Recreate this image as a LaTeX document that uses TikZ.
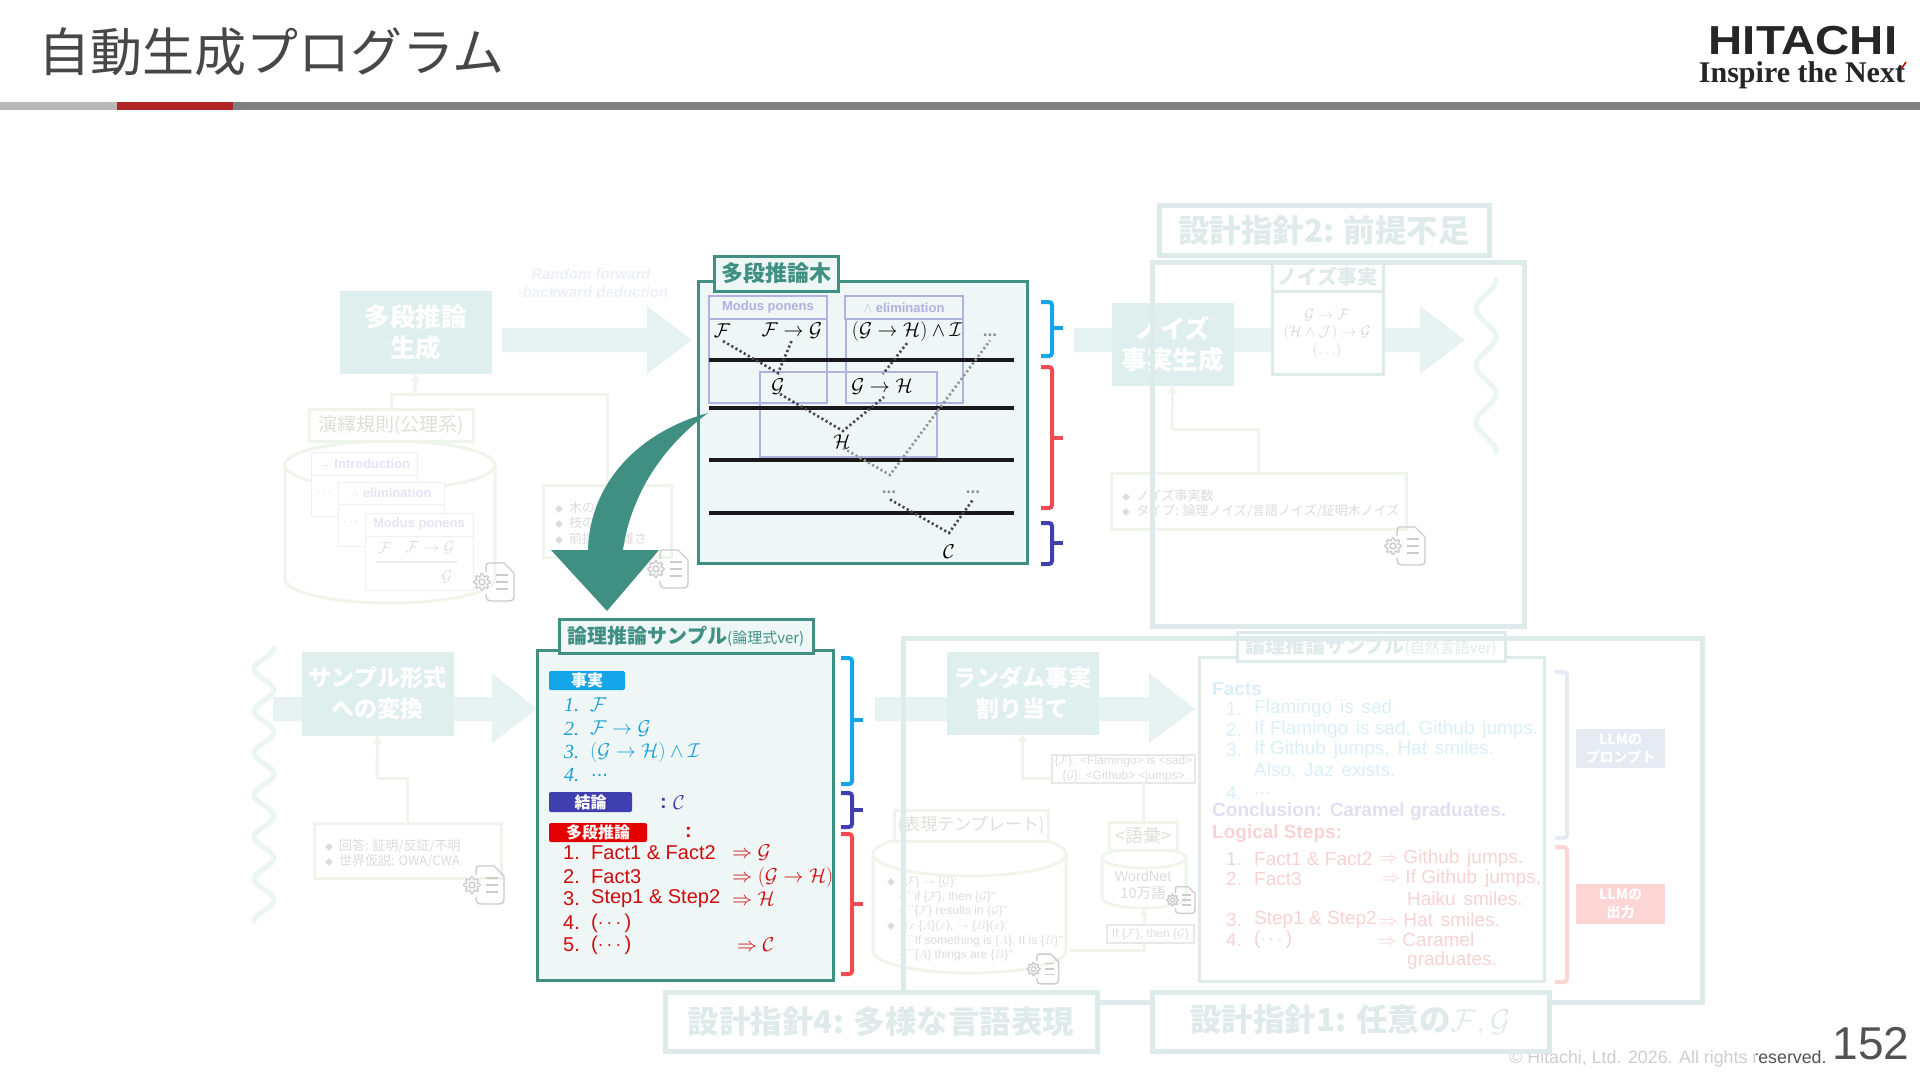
\RequirePackage{fix-cm}
\documentclass[tikz,border=0pt]{standalone}
\usepackage[no-math]{fontspec}
\usepackage{amsmath}
\setmainfont{Noto Sans CJK JP}
\newfontfamily\lat{Liberation Sans}
\newfontfamily\latser{Liberation Serif}
\newfontfamily\hitfont[FakeStretch=1.17]{Liberation Sans}
\usetikzlibrary{arrows.meta,calc}
\definecolor{teal0}{HTML}{3F9082}
\definecolor{panelbg}{HTML}{EEF6F6}
\definecolor{boxfade}{HTML}{DFEFEE}
\definecolor{arrowfade}{HTML}{E7F2F2}
\definecolor{wavefade}{HTML}{EAF5F4}
\definecolor{linefade}{HTML}{DDEBEA}
\definecolor{titlefade}{HTML}{DFEBEA}
\definecolor{greenfade}{HTML}{EFF5EB}
\definecolor{textfade}{HTML}{DCDCDC}
\definecolor{lav}{HTML}{AEB2DE}
\definecolor{lavfade}{HTML}{EEEFF7}
\definecolor{bblue}{HTML}{14A5E8}
\definecolor{bred}{HTML}{EE4C50}
\definecolor{bind}{HTML}{3F3FB0}
\definecolor{factblue}{HTML}{1A9FD8}
\definecolor{stepred}{HTML}{D00A0A}
\definecolor{pbr}{HTML}{E6EAF3}
\definecolor{rbr}{HTML}{FDD5D5}
\newcommand{\fz}[2]{\fontsize{#1}{#2}\selectfont}
\newcommand{\dsp}{\ \hspace{2.5pt}}
\newcommand{\bx}[7][]{\node[inner sep=0pt,outer sep=0pt,align=center,minimum width={(#5-(#3))*1pt},minimum height={(#6-(#4))*1pt},#1] (#2) at ({(#3+#5)/2},{(#4+#6)/2}) {#7};}
\newcommand{\tx}[5][]{\node[anchor=west,inner sep=0pt,#1] (#2) at (#3,#4) {#5};}
\newcommand{\cen}[5][]{\node[inner sep=0pt,#1] (#2) at (#3,#4) {#5};}
\newcommand{\brc}[5]{\draw[#5,line width=4pt,rounded corners=3pt] (#1,#2) -- ({#1+11},#2) -- ({#1+11},#4) -- (#1,#4);\draw[#5,line width=4pt] ({#1+11},#3) -- ({#1+22},#3);}
\newcommand{\cyl}[5]{%
  \pgfmathsetmacro{\rxv}{(#2-(#1))/2}\pgfmathsetmacro{\cxv}{(#1+#2)/2}%
  \draw[greenfade,line width=3pt] (\cxv,{#3+#5}) ellipse[x radius=\rxv pt,y radius=#5 pt];
  \draw[greenfade,line width=3pt] (#1,{#3+#5}) -- (#1,{#4-#5}) arc[start angle=180,end angle=360,x radius=\rxv pt,y radius=#5 pt] -- (#2,{#3+#5});}
\tikzset{
  fadebox/.style={fill=boxfade,draw=boxfade,text=white,font=\bfseries\fz{25.5}{31}},
  gline/.style={greenfade,line width=3pt},
  garrow/.style={greenfade,line width=3pt,-{Stealth[length=9pt,width=9pt]}},
  gbox/.style={draw=greenfade,line width=3pt,fill=white},
  lavbox/.style={draw=lav,line width=1.3pt},
  fadecard/.style={draw=lavfade,line width=1pt,fill=white,text=lav!35!white,font=\lat\bfseries\fz{13}{15}},
  thickrule/.style={black!90,line width=3.4pt},
  dots1/.style={black!72,line width=2.6pt,dash pattern=on 2.2pt off 2.6pt},
  dots2/.style={black!42,line width=2.6pt,dash pattern=on 2.2pt off 2.6pt},
  wave/.style={wavefade,line width=5pt,line cap=round},
  faint/.style={text=textfade,font=\fz{13}{15},align=left},
  dtitle/.style={draw=linefade,line width=5pt,fill=white,text=titlefade,font=\bfseries\fz{31.5}{36}},
  gearline/.style={draw=black!20,line width=1.4pt},
  geardoc/.pic={
    \draw[gearline] (-6,-19) -- (10,-19) -- (20,-9) -- (20,14) .. controls (20,18) and (18,19) .. (14,19) -- (-2,19) .. controls (-6,19) and (-8,18) .. (-8,12);
    \draw[gearline] (-6,-19) .. controls (-8,-19) and (-8,-14) .. (-8,-10);
    \fill[white] (-12,0) circle (9.5);
    \draw[gearline] plot[domain=0:360,samples=49,smooth] ({-12+(7+1.4*cos(8*\x))*cos(\x)},{(7+1.4*cos(8*\x))*sin(\x)});
    \draw[gearline] (-12,0) circle (3);
    \draw[gearline] (2,-7) -- (14,-7) (2,0) -- (14,0) (2,7) -- (14,7);
  },
}
\begin{document}
\begin{tikzpicture}[x=1pt,y=-1pt]
\useasboundingbox (0,0) rectangle (1920,1080);
\fill[white] (0,0) rectangle (1920,1080);

% copyright, faded by the sheet that whitens the slide
\cen[text=black!68,font=\lat\fz{17.8}{20}]{copy}{1668}{1059}{\textcopyright\ Hitachi, Ltd. 2026. All rights reserved.}
\fill[white,opacity=.72] (1500,1045) rectangle (1756,1075);
\cen[text=black!68,font=\lat\fz{46}{50}]{pageno}{1871}{1044}{152}

% header
\fill[black!50] (0,102) rectangle (1920,110);
\fill[black!28] (0,102) rectangle (117,110);
\fill[red!65!black!85!white] (117,102) rectangle (233,110);
\tx[text=black!72,font=\fz{52}{55}]{title}{38}{52}{自動生成プログラム}
\cen[text=black!85,font=\hitfont\bfseries\fz{40.5}{42}]{logoa}{1803}{41}{HITACHI}
\cen[text=black!85,font=\latser\bfseries\fz{30}{32}]{logob}{1802}{75}{Inspire the Next}
\draw[red!80!black,line width=1.6pt] (1902,68) -- (1906,62);

% ---------- faded: random deduction ----------
\fill[arrowfade] (502,328) -- (647,328) -- (647,306) -- (692,340) -- (647,374) -- (647,352) -- (502,352) -- cycle;
\bx[fadebox]{gen}{340}{291}{491}{373}{多段推論\\生成}
\cen[text=lavfade,font=\lat\bfseries\itshape\fz{15}{17}]{rfa}{591}{274}{Random forward}
\cen[text=lavfade,font=\lat\bfseries\itshape\fz{15}{17}]{rfb}{593}{292}{-backward deduction}
\cyl{285}{495}{441}{603}{24}
\bx[gbox,text=greenfade!92!black,font=\fz{19}{22}]{rules}{309}{409}{473}{441}{演繹規則(公理系)}
\coordinate (j1) at (415,394);
\bx[gbox]{dlist}{543}{485}{671}{557}{}
\draw[gline] (rules.north) |- (j1);
\draw[gline] (dlist.north) |- (j1);
\draw[garrow] (j1) -- (gen.south);
\bx[fadecard]{ca}{311}{452}{417}{475}{→ Introduction}
\bx[fadecard]{cab}{311}{475}{417}{516}{}
\cen[text=textfade,font=\fz{13}{14}]{cad}{325}{494}{$\cdots$}
\bx[fadecard]{cb}{338}{482}{444}{504}{$\land$ elimination}
\bx[fadecard]{cbb}{338}{504}{444}{546}{}
\cen[text=textfade,font=\fz{13}{14}]{cbd}{352}{523}{$\cdots$}
\bx[fadecard]{cc}{365}{513}{473}{536}{Modus ponens}
\bx[fadecard]{ccb}{365}{536}{473}{590}{}
\cen[text=textfade,font=\fz{16}{18}]{ccf}{385}{548}{$\mathcal{F}$}
\cen[text=textfade,font=\fz{16}{18}]{ccg}{430}{548}{$\mathcal{F}\to\mathcal{G}$}
\coordinate (cca) at (376,562);
\coordinate (ccc) at (458,562);
\draw[lavfade,line width=1.2pt] (cca) -- (ccc);
\cen[text=textfade,font=\fz{16}{18}]{cch}{447}{577}{$\mathcal{G}$}
\pic at (494,582) {geardoc};
\tx[faint]{dla}{555}{508}{{\fz{8}{9}◆}\ \ 木の深さ}
\tx[faint]{dlb}{555}{523}{{\fz{8}{9}◆}\ \ 枝の数}
\tx[faint]{dlc}{555}{539}{{\fz{8}{9}◆}\ \ 前提の複雑さ}
\pic at (668,569) {geardoc};

% ---------- faded: noise facts ----------
\fill[arrowfade] (1074,328) -- (1420,328) -- (1420,306) -- (1465,340) -- (1420,374) -- (1420,352) -- (1074,352) -- cycle;
\bx[fadebox]{ngen}{1112}{303}{1233}{385}{ノイズ\\事実生成}
\draw[wave] plot[domain=280:452,samples=90,smooth] ({1486+10*cos((\x-280)/57*360)},\x);
\bx[gbox]{nlist}{1111}{473}{1406}{529}{}
\coordinate (j2) at (1172,429);
\draw[gline] (nlist.north) |- (j2);
\draw[garrow] (j2) -- (ngen.south);
\tx[faint]{nla}{1122}{496}{{\fz{8}{9}◆}\ \ ノイズ事実数}
\tx[faint]{nlb}{1122}{511}{{\fz{8}{9}◆}\ \ タイプ: 論理ノイズ/言語ノイズ/証明木ノイズ}
\pic at (1405,546) {geardoc};
\bx[draw=linefade,line width=3pt,fill=white,text=titlefade,font=\bfseries\fz{20}{24}]{nhead}{1272}{262}{1383}{291}{ノイズ事実}
\bx[draw=linefade,line width=3pt,fill=white]{nbody}{1272}{291}{1383}{374}{}
\cen[text=black!16,font=\fz{15}{17}]{nfa}{1327}{315}{$\mathcal{G}\to\mathcal{F}$}
\cen[text=black!16,font=\fz{15}{17}]{nfb}{1327}{333}{$(\mathcal{H}\land\mathcal{J})\to\mathcal{G}$}
\cen[text=black!16,font=\fz{15}{17}]{nfc}{1327}{351}{$(\ldots)$}
\bx[draw=linefade,line width=5pt]{npanel}{1152}{262}{1524}{626}{}
\bx[dtitle]{d2}{1159}{205}{1489}{255}{設計指針2: 前提不足}

% ---------- faded: sample format ----------
\draw[wave] plot[domain=648:922,samples=140,smooth] ({264+10*cos((\x-648)/42*360)},\x);
\fill[arrowfade] (273,697) -- (492,697) -- (492,673) -- (537,709) -- (492,743) -- (492,721) -- (273,721) -- cycle;
\bx[fadebox,font=\bfseries\fz{23}{31}]{sgen}{302}{652}{453}{735}{サンプル形式\\への変換}
\bx[gbox]{slist}{314}{823}{501}{878}{}
\coordinate (j3) at (377,778);
\draw[gline] (slist.north) |- (j3);
\draw[garrow] (j3) -- (sgen.south);
\tx[faint]{sla}{325}{846}{{\fz{8}{9}◆}\ \ 回答: 証明/反証/不明}
\tx[faint]{slb}{325}{861}{{\fz{8}{9}◆}\ \ 世界仮説: OWA/CWA}
\pic at (484,885) {geardoc};

% ---------- faded: random fact assignment ----------
\fill[arrowfade] (875,697) -- (1149,697) -- (1149,673) -- (1195,709) -- (1149,743) -- (1149,721) -- (875,721) -- cycle;
\bx[fadebox,font=\bfseries\fz{23}{31}]{rgen}{947}{652}{1098}{734}{ランダム事実\\割り当て}
\cyl{873}{1066}{832}{973}{22}
\bx[gbox,text=greenfade!92!black,font=\fz{17}{22}]{tplh}{894}{810}{1048}{841}{(表現テンプレート)}
\tikzset{tpltext/.style={text=textfade,font=\lat\fz{12}{14}}}
\tx[tpltext]{ta}{887}{882}{{\fz{8}{9}\rmfamily ◆}\ \ \{$\mathcal{F}$\} $\to$ \{$\mathcal{G}$\}:}
\tx[tpltext]{tb}{899}{897}{- ``if \{$\mathcal{F}$\}, then \{$\mathcal{G}$\}''}
\tx[tpltext]{tc}{899}{911}{- ``\{$\mathcal{F}$\} results in \{$\mathcal{G}$\}''}
\tx[tpltext]{td}{887}{926}{{\fz{8}{9}\rmfamily ◆}\ \ $\forall x$ \{$A$\}($x$), $\to$ \{$B$\}($x$):}
\tx[tpltext]{te}{899}{941}{- ``If something is \{$A$\}, It is \{$B$\}''}
\tx[tpltext]{tf}{899}{955}{- ``\{$A$\} things are \{$B$\}''}
\pic[scale=.78] at (1043,969) {geardoc};
\coordinate (j4) at (1052,778);
\draw[garrow] (j4) -| (rgen.south);
\coordinate (j5) at (1069,950);
\cyl{1102}{1186}{848}{908}{10}
\node[inner sep=0pt,minimum width=84pt,minimum height=60pt] (wn) at (1144,878) {};
\draw[garrow] (j5) -| (wn.south);
\bx[draw=black!9,line width=1.2pt,fill=white,text=textfade,font=\lat\fz{12}{15}]{ifb}{1107}{925}{1194}{943}{If \{$\mathcal{F}$\}, then \{$\mathcal{G}$\}}
\bx[gbox,text=greenfade!92!black,font=\fz{18}{20}]{vocab}{1109}{822}{1177}{850}{<語彙>}
\cen[text=textfade,font=\lat\fz{14.5}{17}]{wna}{1143}{876}{WordNet}
\cen[text=textfade,font=\fz{14.5}{17}]{wnb}{1143}{893}{10万語}
\pic[scale=.7] at (1181,900) {geardoc};
\bx[draw=black!9,line width=1.2pt,fill=white,text=textfade,font=\lat\fz{12}{15}]{fgb}{1052}{755}{1195}{783}{\{$\mathcal{F}$\}: <Flamingo> is <sad>\\\{$\mathcal{G}$\}: <Github> <jumps>}
\draw[gline] (vocab.north) -- (vocab.north |- fgb.south);

% ---------- faded: natural language sample ----------
\bx[draw=linefade,line width=3pt,fill=white]{nlpanel}{1199}{657}{1544}{981}{}
\bx[draw=linefade,line width=3pt,fill=white,text=titlefade,font=\bfseries\fz{20}{24}]{nltitle}{1237}{632}{1505}{661}{論理推論サンプル{\mdseries\fz{15}{17}(自然言語ver)}}
\tikzset{nb/.style={text=factblue!16!white,font=\lat\fz{19}{22}},
  nr/.style={text=stepred!18!white,font=\lat\fz{19}{22}}}
\tx[text=factblue!16!white,font=\lat\bfseries\fz{19}{22}]{fh}{1212}{689}{Facts}
\tx[nb]{f1n}{1226}{709}{1.}
\tx[nb]{f1}{1254}{709}{Flamingo\dsp is\dsp sad.}
\tx[nb]{f2n}{1226}{730}{2.}
\tx[nb]{f2}{1254}{730}{If Flamingo\dsp is sad,\dsp Github\dsp jumps.}
\tx[nb]{f3n}{1226}{750}{3.}
\tx[nb]{f3}{1254}{750}{If Github\dsp jumps,\dsp Hat\dsp smiles.}
\tx[nb]{f3b}{1254}{771}{Also,\dsp Jaz\dsp exists.}
\tx[nb]{f4n}{1226}{793}{4.}
\tx[nb]{f4}{1254}{793}{...}
\tx[text=bind!16!white,font=\lat\bfseries\fz{19}{22}]{ch}{1212}{812}{Conclusion:\dsp Caramel graduates.}
\tx[text=stepred!18!white,font=\lat\bfseries\fz{19}{22}]{lh}{1212}{834}{Logical Steps:}
\tx[nr]{l1n}{1226}{859}{1.}
\tx[nr]{l1}{1254}{859}{Fact1 \& Fact2}
\tx[nr]{l1a}{1379}{859}{$\Rightarrow$ Github\dsp jumps.}
\tx[nr]{l2n}{1226}{879}{2.}
\tx[nr]{l2}{1254}{879}{Fact3}
\tx[nr]{l2a}{1381}{879}{$\Rightarrow$ If Github\dsp jumps,}
\tx[nr]{l2b}{1407}{899}{Haiku\dsp smiles.}
\tx[nr]{l3n}{1226}{920}{3.}
\tx[nr]{l3}{1254}{920}{Step1 \& Step2}
\tx[nr]{l3a}{1379}{920}{$\Rightarrow$ Hat\dsp smiles.}
\tx[nr]{l4n}{1226}{940}{4.}
\tx[nr]{l4}{1254}{940}{($\cdots$)}
\tx[nr]{l4a}{1378}{940}{$\Rightarrow$ Caramel}
\tx[nr]{l4b}{1407}{961}{graduates.}
\draw[pbr,line width=4pt,rounded corners=3pt] (1555,672) -- (1567,672) -- (1567,838) -- (1555,838);
\draw[rbr,line width=4pt,rounded corners=3pt] (1555,847) -- (1567,847) -- (1567,982) -- (1555,982);
\bx[fill=pbr,text=white,font=\bfseries\fz{14}{18}]{llmp}{1576}{729}{1665}{768}{LLMの\\プロンプト}
\bx[fill=rbr,text=white,font=\bfseries\fz{14}{18}]{llmo}{1576}{884}{1665}{924}{LLMの\\出力}
\bx[draw=linefade,line width=5pt]{rpanel}{903}{638}{1702}{1002}{}
\bx[dtitle]{d4}{665}{992}{1097}{1051}{設計指針4: 多様な言語表現}
\bx[dtitle]{d1}{1152}{992}{1549}{1051}{設計指針1: 任意の$\mathcal{F},\mathcal{G}$}

% ---------- tree panel ----------
\bx[draw=teal0,line width=3pt,fill=panelbg]{tree}{698}{281}{1027}{563}{}
\bx[lavbox,text=lav,font=\lat\bfseries\fz{13}{15}]{mph}{709}{296}{827}{319}{Modus ponens}
\bx[lavbox]{mpb}{709}{319}{827}{403}{}
\bx[lavbox,text=lav,font=\lat\bfseries\fz{13}{15}]{elh}{845}{296}{963}{319}{$\land$ elimination}
\bx[lavbox]{elb}{846}{319}{963}{403}{}
\bx[lavbox]{gh}{760}{372}{937}{457}{}
\bx[draw=teal0,line width=3pt,fill=panelbg,text=teal0,font=\bfseries\fz{22}{26}]{treetitle}{714}{256}{838}{291}{多段推論木}
\foreach \yy/\nn in {360/a,408/b,460/c,513/d}{
  \coordinate (rl\nn) at (709,\yy);
  \coordinate (rr\nn) at (1014,\yy);
  \draw[thickrule] (rl\nn) -- (rr\nn);
}
\tikzset{tm/.style={font=\fz{20}{24}}}
\cen[tm]{tf}{722}{331}{$\mathcal{F}$}
\cen[tm]{tfg}{792}{331}{$\mathcal{F}\to\mathcal{G}$}
\cen[tm]{tgi}{907}{331}{$(\mathcal{G}\to\mathcal{H})\land\mathcal{I}$}
\cen[tm]{tg}{778}{387}{$\mathcal{G}$}
\cen[tm]{tgh}{882}{387}{$\mathcal{G}\to\mathcal{H}$}
\cen[tm]{th}{842}{442}{$\mathcal{H}$}
\cen[tm]{tc}{949}{552}{$\mathcal{C}$}
\cen[text=black!45,font=\lat\bfseries\fz{17}{18}]{td1}{990}{335}{...}
\cen[text=black!45,font=\lat\bfseries\fz{17}{18}]{td2}{889}{492}{...}
\cen[text=black!45,font=\lat\bfseries\fz{17}{18}]{td3}{973}{492}{...}
\coordinate (m1) at (778,373);
\coordinate (m2) at (843,431);
\coordinate (m3) at (890,475);
\coordinate (m4) at (949,533);
\coordinate (e1) at (883,374);
\coordinate (e2) at (884,397);
\draw[dots1] ($(tf.south)+(1,3)$) -- (m1) -- ($(tfg.south)+(0,1)$);
\draw[dots1] ($(tgi.south)+(0,2)$) -- (e1);
\draw[dots1] ($(tg.south)+(2,-1)$) -- (m2) -- (e2);
\draw[dots2] ($(th.south)+(1,-1)$) -- (m3) -- ($(td1.south)+(0,4)$);
\draw[dots1] ($(td2.south)+(1,6)$) -- (m4) -- ($(td3.south)+(0,6)$);

% brackets of the tree
\brc{1041}{302}{328}{356}{bblue}
\brc{1041}{367}{438}{508}{bred}
\brc{1041}{523}{543}{564}{bind}

% ---------- big arrow ----------
\fill[teal0] (708,413) .. controls (642,431) and (590,480) .. (588,550) -- (551,550) -- (607,611) -- (659,550) -- (623,550) .. controls (630,500) and (658,450) .. (708,413) -- cycle;

% ---------- logic sample panel ----------
\bx[draw=teal0,line width=3pt,fill=panelbg]{lp}{537}{650}{833}{980}{}
\bx[draw=teal0,line width=3pt,fill=panelbg,text=teal0,font=\bfseries\fz{20}{26}]{lt}{559}{619}{813}{653}{論理推論サンプル{\mdseries\fz{15}{18}(論理式ver)}}
\tikzset{chip/.style={rounded corners=2pt,text=white,font=\bfseries\fz{16}{18}}}
\bx[chip,fill=bblue]{c1}{549}{671}{625}{690}{事実}
\bx[chip,fill=bind]{c2}{549}{792}{632}{812}{結論}
\bx[chip,fill=red!90!black]{c3}{549}{823}{647}{842}{多段推論}
\tikzset{fct/.style={text=factblue,font=\fz{20}{24}}}
\tx[fct]{ff1n}{564}{705}{\textit{\latser 1.}}
\tx[fct]{ff1}{590}{705}{$\mathcal{F}$}
\tx[fct]{ff2n}{564}{729}{\textit{\latser 2.}}
\tx[fct]{ff2}{590}{729}{$\mathcal{F}\to\mathcal{G}$}
\tx[fct]{ff3n}{564}{752}{\textit{\latser 3.}}
\tx[fct]{ff3}{590}{752}{$(\mathcal{G}\to\mathcal{H})\land\mathcal{I}$}
\tx[fct]{ff4n}{564}{775}{\textit{\latser 4.}}
\tx[fct,font=\lat\fz{20}{24}]{ff4}{591}{775}{...}
\tx[text=bind,font=\lat\bfseries\fz{20}{24}]{cc1}{660}{803}{:}
\tx[text=bind,font=\fz{20}{24}]{cc2}{673}{803}{$\mathcal{C}$}
\tx[text=stepred,font=\lat\bfseries\fz{20}{24}]{rc}{685}{832}{:}
\tikzset{stp/.style={text=stepred,font=\lat\fz{20}{24}}}
\tx[stp]{s1n}{563}{853}{1.}
\tx[stp]{s1}{591}{853}{Fact1 \& Fact2}
\tx[stp]{s1a}{732}{853}{$\Rightarrow\mathcal{G}$}
\tx[stp]{s2n}{563}{877}{2.}
\tx[stp]{s2}{591}{877}{Fact3}
\tx[stp]{s2a}{732}{877}{$\Rightarrow(\mathcal{G}\to\mathcal{H})$}
\tx[stp]{s3n}{563}{899}{3.}
\tx[stp]{s3}{591}{899}{Step1 \& Step2}
\tx[stp]{s3a}{732}{899}{$\Rightarrow\mathcal{H}$}
\tx[stp]{s4n}{563}{923}{4.}
\tx[stp]{s4}{591}{923}{($\cdots$)}
\tx[stp]{s5n}{563}{945}{5.}
\tx[stp]{s5}{591}{945}{($\cdots$)}
\tx[stp]{s5a}{737}{945}{$\Rightarrow\mathcal{C}$}
\brc{841}{658}{720}{784}{bblue}
\brc{841}{793}{810}{827}{bind}
\brc{841}{834}{904}{974}{bred}
\end{tikzpicture}
\end{document}
